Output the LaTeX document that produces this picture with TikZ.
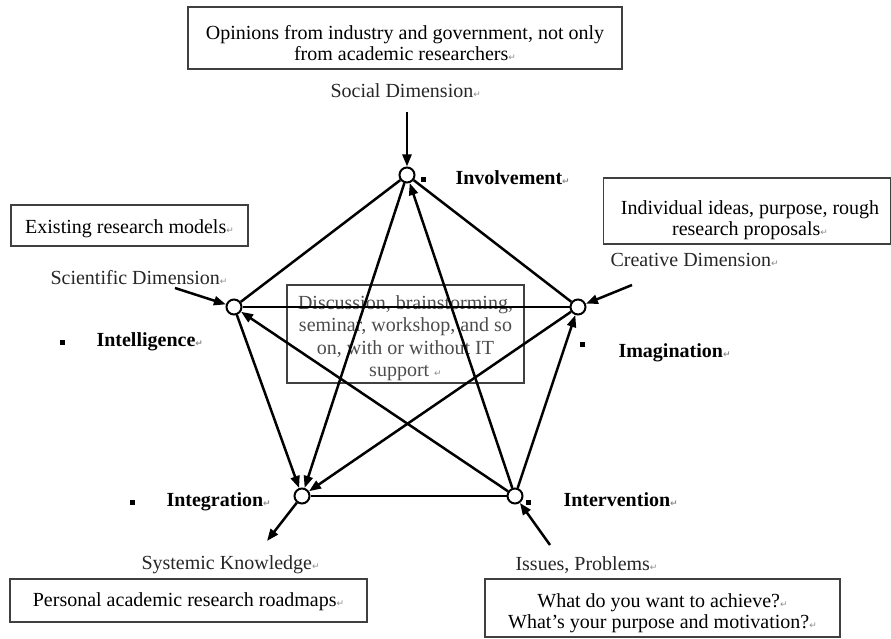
\documentclass[tikz,border=0pt]{standalone}
\usepackage{fontspec}
\setmainfont{Liberation Serif}
\newfontfamily\symfont{DejaVu Sans}
\usetikzlibrary{arrows.meta}
\newcommand\retmk{{\symfont\fontsize{9}{9}\selectfont\textcolor{black!45}{↵}}}
\begin{document}
\begin{tikzpicture}[x=1pt,y=-1pt,
  every node/.style={font=\fontsize{20}{20.5}\selectfont},
  box/.style={draw=black!75, line width=1.2pt, inner sep=0pt},
  boxtext/.style={align=center, inner sep=0pt},
  vtx/.style={circle, draw, line width=2pt, fill=white, minimum size=15pt, inner sep=0pt},
  edge/.style={line width=2.5pt},
  arr/.style={line width=2.5pt, -{Triangle[length=12pt,width=9pt]}},
  dimlbl/.style={anchor=base west, text=black!85},
  keylbl/.style={anchor=base west, font=\fontsize{20}{21}\selectfont\bfseries},
  bulletsq/.style={fill=black, minimum size=5pt, inner sep=0pt}
]
\useasboundingbox (0,0) rectangle (891,639);

% boxes
\node[box, minimum width=434pt, minimum height=62pt] (topbox) at (405,38) {};
\node[boxtext] (toptext) at (405,43)
  {Opinions from industry and government, not only\\ from academic researchers\retmk};
\node[box, minimum width=237pt, minimum height=41pt] (existbox) at (129.5,225.5) {};
\node[boxtext] (existtext) at (129.5,229) {Existing research models\retmk};
\node[box, minimum width=287pt, minimum height=66pt] (rightbox) at (747,211) {};
\node[boxtext] (righttext) at (750,220)
  {Individual ideas, purpose, rough\\ research proposals\retmk};
\node[box, minimum width=237pt, minimum height=98pt] (discbox) at (405.5,334) {};
\node[boxtext, text=black!70, font=\fontsize{20}{22.5}\selectfont] (disctext) at (405.5,338)
  {Discussion, brainstorming,\\ seminar, workshop, and so\\ on, with or without IT\\ support \retmk};
\node[box, minimum width=357pt, minimum height=43pt] (roadbox) at (188.5,600.5) {};
\node[boxtext] (roadtext) at (188.5,602) {Personal academic research roadmaps\retmk};
\node[box, minimum width=355pt, minimum height=58pt] (achbox) at (662.5,608) {};
\node[boxtext] (achtext) at (662.5,613)
  {What do you want to achieve?\retmk\\ What's your purpose and motivation?\retmk};

% vertices
\node[vtx] (inv) at (407,175) {};
\node[vtx] (intel) at (234,307) {};
\node[vtx] (imag) at (578,307) {};
\node[vtx] (integ) at (302,496) {};
\node[vtx] (interv) at (515,496) {};

% pentagon and star
\draw[edge] (inv) -- (intel);
\draw[edge] (inv) -- (imag);
\draw[edge] (intel) -- (imag);
\draw[edge] (integ) -- (interv);
\draw[arr] (intel) -- (integ);
\draw[arr] (inv) -- (integ);
\draw[arr] (imag) -- (integ);
\draw[arr] (interv) -- (intel);
\draw[arr] (interv) -- (inv);
\draw[arr] (interv) -- (imag);

% dimension labels
\node[dimlbl] (social) at (327,98) {Social Dimension\retmk};
\node[dimlbl] (scient) at (47,284) {Scientific Dimension\retmk};
\node[dimlbl] (creat) at (607,266) {Creative Dimension\retmk};
\node[dimlbl] (syst) at (138,569) {Systemic Knowledge\retmk};
\node[dimlbl] (issues) at (512,570) {Issues, Problems\retmk};

% dimension arrows
\coordinate (socialS) at (407,112);
\coordinate (scientS) at (175,288);
\coordinate (creatS) at (632,285);
\coordinate (systE) at (267,541);
\coordinate (issuesS) at (550,545);
\draw[arr] (socialS) -- (inv);
\draw[arr] (scientS) -- (intel);
\draw[arr] (creatS) -- (imag);
\draw[arr] (integ) -- (systE);
\draw[arr] (issuesS) -- (interv);

% key labels
\node[bulletsq] (b1) at (423,180) {};
\node[keylbl] (kinv) at (452,185) {Involvement\retmk};
\node[bulletsq] (b2) at (62,342) {};
\node[keylbl] (kintel) at (93,346) {Intelligence\retmk};
\node[bulletsq] (b3) at (582,344) {};
\node[keylbl] (kimag) at (615,357) {Imagination\retmk};
\node[bulletsq] (b4) at (132,502) {};
\node[keylbl] (kinteg) at (163,506) {Integration\retmk};
\node[bulletsq] (b5) at (528,502) {};
\node[keylbl] (kinterv) at (560,506) {Intervention\retmk};
\end{tikzpicture}
\end{document}
